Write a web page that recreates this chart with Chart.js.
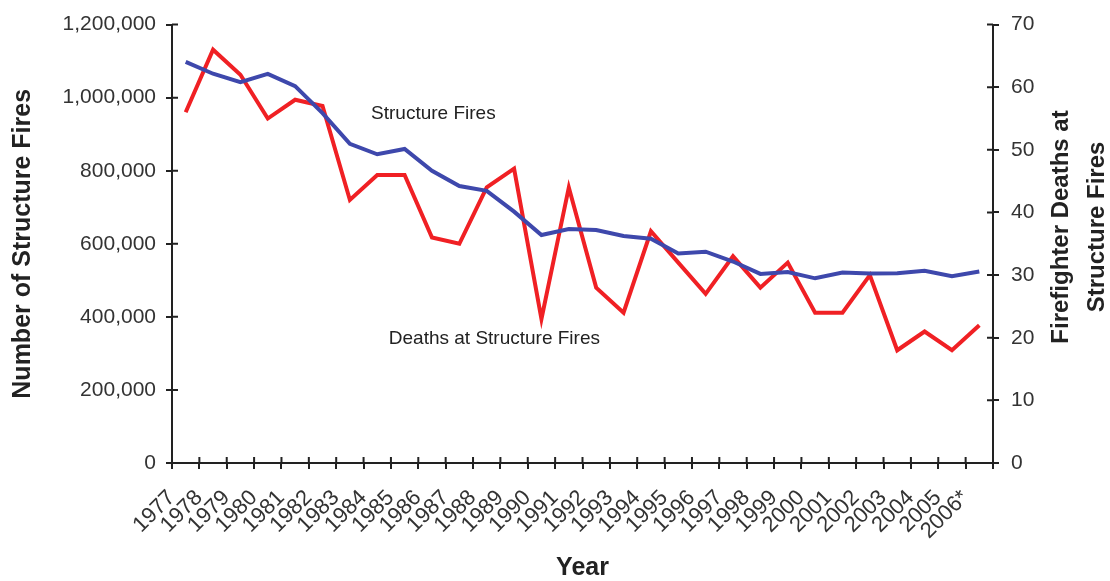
<!DOCTYPE html>
<html>
<head>
<meta charset="utf-8">
<script src="https://cdn.jsdelivr.net/npm/chart.js@4"></script>
<style>
  html, body { margin: 0; padding: 0; background: #fff; }
  #wrap { width: 1110px; height: 581px; }
</style>
</head>
<body>
<div id="wrap"><canvas id="chart"></canvas></div>
<script>
const years = ['1977', '1978', '1979', '1980', '1981', '1982', '1983', '1984', '1985', '1986',
  '1987', '1988', '1989', '1990', '1991', '1992', '1993', '1994', '1995', '1996',
  '1997', '1998', '1999', '2000', '2001', '2002', '2003', '2004', '2005', '2006*'];

// structure fires (left axis)
const structureFires = [1098000, 1065500, 1042500, 1065000, 1031500, 957500, 873500, 845000, 859500, 800000,
  758000, 745000, 688000, 624000, 640500, 637500, 621500, 614000, 573500, 578500,
  551500, 517500, 523000, 505500, 521500, 519000, 519500, 526000, 511000, 524000];

// firefighter deaths at structure fires (right axis)
const deaths = [56, 66, 62, 55, 58, 57, 42, 46, 46, 36,
  35, 44, 47, 23, 44, 28, 24, 37, 32, 27,
  33, 28, 32, 24, 24, 30, 18, 21, 18, 22];

const leftTicks = [0, 200000, 400000, 600000, 800000, 1000000, 1200000];
const rightTicks = [0, 10, 20, 30, 40, 50, 60, 70];

// in-chart labels, placed on the data scales
const notes = [
  { text: 'Structure Fires', xIndex: 9.05, axis: 'y', value: 955000 },
  { text: 'Deaths at Structure Fires', xIndex: 11.28, axis: 'y1', value: 19.8 }
];

const FONT = "'Liberation Sans', Arial, sans-serif";
const INK = '#222';

// tick marks that cross the axis lines, and the extra texts
const extras = {
  id: 'extras',
  afterDraw(chart) {
    const c = chart.ctx;
    const xs = chart.scales.x, yl = chart.scales.y, yr = chart.scales.y1;
    c.save();
    c.strokeStyle = INK;
    c.lineWidth = 2;
    c.beginPath();
    yl.ticks.forEach(t => {
      const p = yl.getPixelForValue(t.value);
      c.moveTo(yl.right, p); c.lineTo(yl.right + 6, p);
    });
    yr.ticks.forEach(t => {
      const p = yr.getPixelForValue(t.value);
      c.moveTo(yr.left, p); c.lineTo(yr.left - 6, p);
    });
    for (let i = 0; i <= years.length; i++) {
      const p = xs.getPixelForValue(i - 0.5);
      c.moveTo(p, xs.top); c.lineTo(p, xs.top - 6);
    }
    c.stroke();

    c.fillStyle = INK;
    c.font = '19px ' + FONT;
    c.textAlign = 'center';
    c.textBaseline = 'middle';
    notes.forEach(n => {
      c.fillText(n.text, xs.getPixelForValue(n.xIndex), chart.scales[n.axis].getPixelForValue(n.value));
    });

    // right axis title, reading bottom to top
    c.font = 'bold 24px ' + FONT;
    c.translate(1079, 227);
    c.rotate(-Math.PI / 2);
    c.fillText('Firefighter Deaths at', 0, -18);
    c.fillText('Structure Fires', 0, 18);
    c.restore();
  }
};

const ctx = document.getElementById('chart');

new Chart(ctx, {
  type: 'line',
  data: {
    labels: years,
    datasets: [
      {
        label: 'Structure Fires',
        data: structureFires,
        yAxisID: 'y',
        borderColor: 'rgb(62, 72, 172)',
        borderWidth: 4,
        pointRadius: 0,
        tension: 0
      },
      {
        label: 'Deaths at Structure Fires',
        data: deaths,
        yAxisID: 'y1',
        borderColor: 'rgb(240, 32, 36)',
        borderWidth: 4,
        pointRadius: 0,
        tension: 0
      }
    ]
  },
  options: {
    responsive: true,
    maintainAspectRatio: false,
    animation: false,
    layout: { padding: { top: 22, left: 0, right: 0, bottom: 0 } },
    plugins: {
      legend: { display: false },
      tooltip: { enabled: false }
    },
    scales: {
      x: {
        type: 'category',
        offset: true,
        grid: { offset: true, drawOnChartArea: false, color: INK, lineWidth: 2, tickLength: 6 },
        border: { color: INK, width: 2 },
        ticks: {
          autoSkip: false, maxRotation: 45, minRotation: 45,
          color: '#333', font: { family: FONT, size: 22 }, padding: 16, labelOffset: -14
        },
        title: {
          display: true, text: 'Year', color: INK,
          font: { family: FONT, size: 25, weight: 'bold', lineHeight: 1 }, padding: { top: 0, bottom: 0 }
        },
        afterFit(s) { s.height = 118; }
      },
      y: {
        position: 'left',
        min: 0, max: 1200000,
        afterBuildTicks(s) { s.ticks = leftTicks.map(v => ({ value: v })); },
        grid: { drawOnChartArea: false, color: INK, lineWidth: 2, tickLength: 6 },
        border: { color: INK, width: 2 },
        ticks: {
          color: '#333', font: { family: FONT, size: 21 }, padding: 10,
          callback: v => v.toLocaleString('en-US')
        },
        title: {
          display: true, text: 'Number of Structure Fires', color: INK,
          font: { family: FONT, size: 25, weight: 'bold' }, padding: { top: 8, bottom: 0 }
        },
        afterFit(s) { s.width = 172; }
      },
      y1: {
        position: 'right',
        min: 0, max: 70,
        afterBuildTicks(s) { s.ticks = rightTicks.map(v => ({ value: v })); },
        grid: { drawOnChartArea: false, color: INK, lineWidth: 2, tickLength: 6 },
        border: { color: INK, width: 2 },
        ticks: { color: '#333', font: { family: FONT, size: 21 }, padding: 12 },
        afterFit(s) { s.width = 117; }
      }
    }
  },
  plugins: [extras]
});
</script>
</body>
</html>
